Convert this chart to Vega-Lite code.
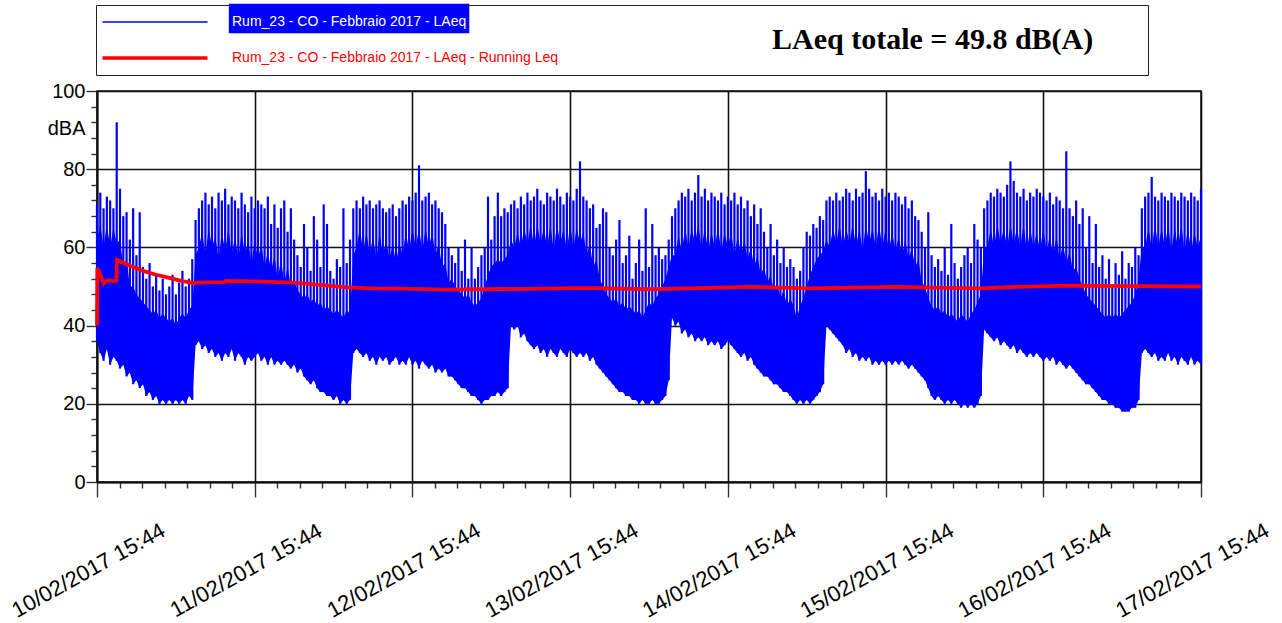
{
  "$schema": "https://vega.github.io/schema/vega-lite/v6.json",
  "width": 1104,
  "height": 391,
  "autosize": {"type": "none"},
  "padding": {"left": 97, "top": 91, "right": 81, "bottom": 141},
  "background": "white",
  "config": {"view": {"stroke": "#111", "strokeWidth": 1.5}},
  "datasets": {
    "laeq": [
      {"h":0,"lo":36,"hi":62,"pk":71},{"h":0.5,"lo":33,"hi":66,"pk":74},{"h":1,"lo":31,"hi":60,"pk":70},{"h":1.5,"lo":34,"hi":66,"pk":73},{"h":2,"lo":30,"hi":60,"pk":72},{"h":2.5,"lo":32,"hi":65,"pk":70},{"h":3,"lo":31,"hi":61,"pk":92},{"h":3.5,"lo":29,"hi":62,"pk":75},{"h":4,"lo":30,"hi":55,"pk":68},{"h":4.5,"lo":27,"hi":57,"pk":69},{"h":5,"lo":28,"hi":50,"pk":62},
      {"h":5.5,"lo":25,"hi":50,"pk":70},{"h":6,"lo":26,"hi":48,"pk":58},{"h":6.5,"lo":24,"hi":47,"pk":69},{"h":7,"lo":25,"hi":46,"pk":55},{"h":7.5,"lo":22,"hi":45,"pk":52},{"h":8,"lo":23,"hi":44,"pk":56},{"h":8.5,"lo":21,"hi":43,"pk":50},{"h":9,"lo":22,"hi":44,"pk":53},{"h":9.5,"lo":20,"hi":42,"pk":49},{"h":10,"lo":21,"hi":43,"pk":52},{"h":10.5,"lo":20,"hi":42,"pk":48},{"h":11,"lo":21,"hi":41,"pk":50},{"h":11.5,"lo":20,"hi":42,"pk":53},{"h":12,"lo":21,"hi":40,"pk":48},{"h":12.5,"lo":20,"hi":42,"pk":51},{"h":13,"lo":21,"hi":43,"pk":54},{"h":13.5,"lo":20,"hi":42,"pk":50},{"h":14,"lo":22,"hi":44,"pk":52},{"h":14.5,"lo":21,"hi":45,"pk":57},{"h":15,"lo":35,"hi":58,"pk":67},
      {"h":15.5,"lo":36,"hi":60,"pk":70},{"h":16,"lo":34,"hi":64,"pk":72},{"h":16.5,"lo":35,"hi":58,"pk":74},{"h":17,"lo":33,"hi":65,"pk":71},{"h":17.5,"lo":34,"hi":60,"pk":73},{"h":18,"lo":32,"hi":63,"pk":70},{"h":18.5,"lo":33,"hi":57,"pk":74},{"h":19,"lo":31,"hi":64,"pk":72},{"h":19.5,"lo":33,"hi":59,"pk":75},{"h":20,"lo":32,"hi":65,"pk":71},{"h":20.5,"lo":34,"hi":58,"pk":73},{"h":21,"lo":31,"hi":63,"pk":72},{"h":21.5,"lo":33,"hi":57,"pk":70},{"h":22,"lo":32,"hi":64,"pk":74},{"h":22.5,"lo":30,"hi":58,"pk":71},{"h":23,"lo":32,"hi":62,"pk":69},{"h":23.5,"lo":31,"hi":56,"pk":73},{"h":24,"lo":32,"hi":62,"pk":70},{"h":24.5,"lo":33,"hi":57,"pk":72},{"h":25,"lo":31,"hi":61,"pk":71},{"h":25.5,"lo":32,"hi":55,"pk":70},{"h":26,"lo":30,"hi":59,"pk":73},{"h":26.5,"lo":32,"hi":54,"pk":66},{"h":27,"lo":30,"hi":58,"pk":71},{"h":27.5,"lo":31,"hi":52,"pk":65},{"h":28,"lo":30,"hi":57,"pk":70},{"h":28.5,"lo":31,"hi":51,"pk":72},{"h":29,"lo":30,"hi":55,"pk":64},{"h":29.5,"lo":29,"hi":50,"pk":70},{"h":30,"lo":30,"hi":52,"pk":62},
      {"h":30.5,"lo":28,"hi":49,"pk":58},{"h":31,"lo":29,"hi":48,"pk":55},{"h":31.5,"lo":27,"hi":47,"pk":66},{"h":32,"lo":26,"hi":48,"pk":60},{"h":32.5,"lo":25,"hi":46,"pk":54},{"h":33,"lo":26,"hi":47,"pk":68},{"h":33.5,"lo":24,"hi":45,"pk":62},{"h":34,"lo":23,"hi":46,"pk":55},{"h":34.5,"lo":23,"hi":44,"pk":71},{"h":35,"lo":22,"hi":45,"pk":66},{"h":35.5,"lo":22,"hi":44,"pk":54},{"h":36,"lo":21,"hi":43,"pk":52},{"h":36.5,"lo":22,"hi":44,"pk":57},{"h":37,"lo":20,"hi":43,"pk":55},{"h":37.5,"lo":21,"hi":42,"pk":70},{"h":38,"lo":20,"hi":44,"pk":56},{"h":38.5,"lo":21,"hi":43,"pk":62},{"h":39,"lo":33,"hi":58,"pk":70},
      {"h":39.5,"lo":34,"hi":60,"pk":72},{"h":40,"lo":33,"hi":65,"pk":70},{"h":40.5,"lo":32,"hi":59,"pk":73},{"h":41,"lo":33,"hi":64,"pk":71},{"h":41.5,"lo":31,"hi":58,"pk":72},{"h":42,"lo":32,"hi":63,"pk":70},{"h":42.5,"lo":30,"hi":57,"pk":71},{"h":43,"lo":32,"hi":64,"pk":72},{"h":43.5,"lo":31,"hi":58,"pk":70},{"h":44,"lo":32,"hi":62,"pk":69},{"h":44.5,"lo":30,"hi":57,"pk":70},{"h":45,"lo":31,"hi":61,"pk":71},{"h":45.5,"lo":32,"hi":56,"pk":68},{"h":46,"lo":30,"hi":61,"pk":70},{"h":46.5,"lo":31,"hi":58,"pk":72},{"h":47,"lo":30,"hi":64,"pk":71},{"h":47.5,"lo":32,"hi":59,"pk":73},{"h":48,"lo":30,"hi":65,"pk":72},{"h":48.5,"lo":31,"hi":60,"pk":74},{"h":49,"lo":29,"hi":65,"pk":81},{"h":49.5,"lo":31,"hi":59,"pk":72},{"h":50,"lo":30,"hi":65,"pk":73},{"h":50.5,"lo":29,"hi":60,"pk":74},{"h":51,"lo":30,"hi":64,"pk":71},{"h":51.5,"lo":28,"hi":58,"pk":72},{"h":52,"lo":29,"hi":61,"pk":70},{"h":52.5,"lo":28,"hi":55,"pk":69},{"h":53,"lo":29,"hi":56,"pk":66},{"h":53.5,"lo":27,"hi":51,"pk":60},
      {"h":54,"lo":27,"hi":52,"pk":58},{"h":54.5,"lo":26,"hi":50,"pk":56},{"h":55,"lo":25,"hi":49,"pk":60},{"h":55.5,"lo":24,"hi":48,"pk":54},{"h":56,"lo":24,"hi":47,"pk":62},{"h":56.5,"lo":23,"hi":48,"pk":52},{"h":57,"lo":22,"hi":46,"pk":60},{"h":57.5,"lo":22,"hi":45,"pk":52},{"h":58,"lo":21,"hi":46,"pk":55},{"h":58.5,"lo":20,"hi":47,"pk":58},{"h":59,"lo":21,"hi":50,"pk":60},{"h":59.5,"lo":21,"hi":53,"pk":73},{"h":60,"lo":22,"hi":55,"pk":62},{"h":60.5,"lo":22,"hi":56,"pk":68},{"h":61,"lo":23,"hi":57,"pk":74},{"h":61.5,"lo":22,"hi":56,"pk":68},{"h":62,"lo":23,"hi":57,"pk":70},{"h":62.5,"lo":24,"hi":58,"pk":69},{"h":63,"lo":40,"hi":62,"pk":71},
      {"h":63.5,"lo":39,"hi":60,"pk":72},{"h":64,"lo":40,"hi":64,"pk":70},{"h":64.5,"lo":37,"hi":60,"pk":73},{"h":65,"lo":38,"hi":65,"pk":71},{"h":65.5,"lo":36,"hi":61,"pk":74},{"h":66,"lo":35,"hi":66,"pk":72},{"h":66.5,"lo":34,"hi":60,"pk":73},{"h":67,"lo":35,"hi":66,"pk":75},{"h":67.5,"lo":33,"hi":61,"pk":72},{"h":68,"lo":34,"hi":65,"pk":71},{"h":68.5,"lo":32,"hi":60,"pk":74},{"h":69,"lo":34,"hi":66,"pk":73},{"h":69.5,"lo":33,"hi":59,"pk":72},{"h":70,"lo":32,"hi":66,"pk":75},{"h":70.5,"lo":34,"hi":61,"pk":73},{"h":71,"lo":33,"hi":65,"pk":71},{"h":71.5,"lo":32,"hi":59,"pk":74},{"h":72,"lo":34,"hi":66,"pk":73},{"h":72.5,"lo":33,"hi":60,"pk":72},{"h":73,"lo":32,"hi":65,"pk":75},{"h":73.5,"lo":33,"hi":61,"pk":82},{"h":74,"lo":32,"hi":64,"pk":73},{"h":74.5,"lo":33,"hi":58,"pk":72},{"h":75,"lo":31,"hi":61,"pk":70},{"h":75.5,"lo":32,"hi":55,"pk":71},{"h":76,"lo":30,"hi":57,"pk":65},
      {"h":76.5,"lo":29,"hi":52,"pk":66},{"h":77,"lo":28,"hi":50,"pk":70},{"h":77.5,"lo":27,"hi":48,"pk":69},{"h":78,"lo":26,"hi":47,"pk":60},{"h":78.5,"lo":25,"hi":46,"pk":58},{"h":79,"lo":24,"hi":47,"pk":62},{"h":79.5,"lo":23,"hi":45,"pk":67},{"h":80,"lo":23,"hi":46,"pk":56},{"h":80.5,"lo":22,"hi":44,"pk":58},{"h":81,"lo":22,"hi":45,"pk":63},{"h":81.5,"lo":21,"hi":44,"pk":52},{"h":82,"lo":21,"hi":43,"pk":56},{"h":82.5,"lo":20,"hi":44,"pk":62},{"h":83,"lo":21,"hi":42,"pk":54},{"h":83.5,"lo":20,"hi":44,"pk":70},{"h":84,"lo":20,"hi":46,"pk":55},{"h":84.5,"lo":21,"hi":45,"pk":66},{"h":85,"lo":20,"hi":47,"pk":58},{"h":85.5,"lo":20,"hi":48,"pk":60},{"h":86,"lo":21,"hi":50,"pk":57},{"h":86.5,"lo":22,"hi":52,"pk":58},{"h":87,"lo":26,"hi":55,"pk":62},{"h":87.5,"lo":42,"hi":58,"pk":68},
      {"h":88,"lo":40,"hi":58,"pk":70},{"h":88.5,"lo":41,"hi":63,"pk":72},{"h":89,"lo":38,"hi":59,"pk":74},{"h":89.5,"lo":39,"hi":65,"pk":73},{"h":90,"lo":37,"hi":60,"pk":75},{"h":90.5,"lo":38,"hi":65,"pk":72},{"h":91,"lo":36,"hi":61,"pk":74},{"h":91.5,"lo":37,"hi":66,"pk":78.5},{"h":92,"lo":36,"hi":60,"pk":73},{"h":92.5,"lo":37,"hi":65,"pk":75},{"h":93,"lo":35,"hi":59,"pk":72},{"h":93.5,"lo":36,"hi":64,"pk":74},{"h":94,"lo":35,"hi":60,"pk":73},{"h":94.5,"lo":36,"hi":65,"pk":72},{"h":95,"lo":34,"hi":59,"pk":74},{"h":95.5,"lo":35,"hi":64,"pk":71},{"h":96,"lo":36,"hi":60,"pk":73},{"h":96.5,"lo":35,"hi":64,"pk":72},{"h":97,"lo":34,"hi":58,"pk":74},{"h":97.5,"lo":33,"hi":63,"pk":71},{"h":98,"lo":32,"hi":58,"pk":73},{"h":98.5,"lo":33,"hi":62,"pk":70},{"h":99,"lo":31,"hi":57,"pk":72},{"h":99.5,"lo":32,"hi":60,"pk":68},{"h":100,"lo":30,"hi":55,"pk":71},{"h":100.5,"lo":29,"hi":58,"pk":66},{"h":101,"lo":28,"hi":53,"pk":70},{"h":101.5,"lo":27,"hi":55,"pk":64},{"h":102,"lo":27,"hi":51,"pk":60},{"h":102.5,"lo":26,"hi":53,"pk":66},{"h":103,"lo":25,"hi":49,"pk":58},{"h":103.5,"lo":25,"hi":51,"pk":62},{"h":104,"lo":24,"hi":47,"pk":56},{"h":104.5,"lo":23,"hi":49,"pk":60},{"h":105,"lo":23,"hi":45,"pk":55},{"h":105.5,"lo":22,"hi":47,"pk":57},
      {"h":106,"lo":21,"hi":45,"pk":55},{"h":106.5,"lo":20,"hi":42,"pk":52},{"h":107,"lo":21,"hi":45,"pk":54},{"h":107.5,"lo":20,"hi":47,"pk":60},{"h":108,"lo":21,"hi":50,"pk":64},{"h":108.5,"lo":20,"hi":53,"pk":63},{"h":109,"lo":21,"hi":55,"pk":66},{"h":109.5,"lo":22,"hi":57,"pk":65},{"h":110,"lo":23,"hi":58,"pk":68},{"h":110.5,"lo":25,"hi":59,"pk":67},{"h":111,"lo":40,"hi":62,"pk":72},
      {"h":111.5,"lo":39,"hi":60,"pk":73},{"h":112,"lo":38,"hi":65,"pk":72},{"h":112.5,"lo":37,"hi":61,"pk":74},{"h":113,"lo":36,"hi":66,"pk":72},{"h":113.5,"lo":35,"hi":60,"pk":73},{"h":114,"lo":33,"hi":65,"pk":75},{"h":114.5,"lo":34,"hi":61,"pk":74},{"h":115,"lo":32,"hi":66,"pk":72},{"h":115.5,"lo":33,"hi":60,"pk":75},{"h":116,"lo":31,"hi":65,"pk":73},{"h":116.5,"lo":32,"hi":59,"pk":74},{"h":117,"lo":31,"hi":66,"pk":79.5},{"h":117.5,"lo":32,"hi":61,"pk":75},{"h":118,"lo":30,"hi":65,"pk":73},{"h":118.5,"lo":31,"hi":60,"pk":74},{"h":119,"lo":30,"hi":66,"pk":72},{"h":119.5,"lo":31,"hi":60,"pk":75},{"h":120,"lo":30,"hi":65,"pk":73},{"h":120.5,"lo":31,"hi":59,"pk":74},{"h":121,"lo":30,"hi":64,"pk":72},{"h":121.5,"lo":31,"hi":59,"pk":74},{"h":122,"lo":30,"hi":63,"pk":73},{"h":122.5,"lo":31,"hi":58,"pk":71},{"h":123,"lo":30,"hi":62,"pk":73},{"h":123.5,"lo":29,"hi":57,"pk":70},{"h":124,"lo":30,"hi":60,"pk":72},{"h":124.5,"lo":29,"hi":55,"pk":68},{"h":125,"lo":28,"hi":57,"pk":67},{"h":125.5,"lo":27,"hi":51,"pk":64},{"h":126,"lo":26,"hi":50,"pk":60},
      {"h":126.5,"lo":24,"hi":47,"pk":69},{"h":127,"lo":22,"hi":45,"pk":58},{"h":127.5,"lo":21,"hi":44,"pk":55},{"h":128,"lo":22,"hi":45,"pk":57},{"h":128.5,"lo":21,"hi":43,"pk":54},{"h":129,"lo":20,"hi":44,"pk":60},{"h":129.5,"lo":21,"hi":42,"pk":53},{"h":130,"lo":20,"hi":43,"pk":66},{"h":130.5,"lo":21,"hi":42,"pk":56},{"h":131,"lo":20,"hi":41,"pk":52},{"h":131.5,"lo":19,"hi":43,"pk":55},{"h":132,"lo":20,"hi":42,"pk":58},{"h":132.5,"lo":19,"hi":41,"pk":60},{"h":133,"lo":20,"hi":43,"pk":56},{"h":133.5,"lo":19,"hi":44,"pk":66},{"h":134,"lo":20,"hi":46,"pk":62},{"h":134.5,"lo":22,"hi":48,"pk":60},{"h":135,"lo":39,"hi":60,"pk":70},
      {"h":135.5,"lo":38,"hi":60,"pk":72},{"h":136,"lo":37,"hi":65,"pk":74},{"h":136.5,"lo":36,"hi":60,"pk":73},{"h":137,"lo":37,"hi":66,"pk":75},{"h":137.5,"lo":35,"hi":61,"pk":74},{"h":138,"lo":36,"hi":65,"pk":73},{"h":138.5,"lo":35,"hi":60,"pk":76},{"h":139,"lo":34,"hi":66,"pk":82},{"h":139.5,"lo":35,"hi":61,"pk":77},{"h":140,"lo":33,"hi":65,"pk":74},{"h":140.5,"lo":34,"hi":60,"pk":73},{"h":141,"lo":33,"hi":66,"pk":75},{"h":141.5,"lo":32,"hi":59,"pk":72},{"h":142,"lo":33,"hi":65,"pk":74},{"h":142.5,"lo":32,"hi":60,"pk":73},{"h":143,"lo":33,"hi":64,"pk":75},{"h":143.5,"lo":32,"hi":59,"pk":74},{"h":144,"lo":31,"hi":65,"pk":73},{"h":144.5,"lo":32,"hi":59,"pk":72},{"h":145,"lo":31,"hi":63,"pk":74},{"h":145.5,"lo":32,"hi":58,"pk":71},{"h":146,"lo":30,"hi":63,"pk":73},{"h":146.5,"lo":31,"hi":57,"pk":72},{"h":147,"lo":30,"hi":61,"pk":70},{"h":147.5,"lo":29,"hi":56,"pk":84.6},{"h":148,"lo":30,"hi":59,"pk":70},{"h":148.5,"lo":29,"hi":54,"pk":68},
      {"h":149,"lo":28,"hi":55,"pk":72},{"h":149.5,"lo":27,"hi":52,"pk":66},{"h":150,"lo":26,"hi":50,"pk":70},{"h":150.5,"lo":25,"hi":48,"pk":60},{"h":151,"lo":25,"hi":47,"pk":68},{"h":151.5,"lo":24,"hi":46,"pk":56},{"h":152,"lo":23,"hi":45,"pk":66},{"h":152.5,"lo":22,"hi":44,"pk":55},{"h":153,"lo":21,"hi":43,"pk":58},{"h":153.5,"lo":21,"hi":42,"pk":52},{"h":154,"lo":20,"hi":43,"pk":57},{"h":154.5,"lo":20,"hi":42,"pk":50},{"h":155,"lo":19,"hi":43,"pk":56},{"h":155.5,"lo":19,"hi":42,"pk":53},{"h":156,"lo":18,"hi":43,"pk":59},{"h":156.5,"lo":18,"hi":44,"pk":52},{"h":157,"lo":18,"hi":45,"pk":56},{"h":157.5,"lo":19,"hi":46,"pk":55},{"h":158,"lo":19,"hi":48,"pk":60},{"h":158.5,"lo":21,"hi":52,"pk":58},{"h":159,"lo":33,"hi":60,"pk":70},
      {"h":159.5,"lo":34,"hi":60,"pk":73},{"h":160,"lo":33,"hi":65,"pk":74},{"h":160.5,"lo":32,"hi":60,"pk":78},{"h":161,"lo":33,"hi":66,"pk":73},{"h":161.5,"lo":31,"hi":60,"pk":72},{"h":162,"lo":32,"hi":65,"pk":74},{"h":162.5,"lo":31,"hi":60,"pk":73},{"h":163,"lo":33,"hi":66,"pk":72},{"h":163.5,"lo":31,"hi":59,"pk":74},{"h":164,"lo":32,"hi":65,"pk":73},{"h":164.5,"lo":30,"hi":60,"pk":72},{"h":165,"lo":32,"hi":66,"pk":74},{"h":165.5,"lo":31,"hi":59,"pk":73},{"h":166,"lo":30,"hi":65,"pk":72},{"h":166.5,"lo":32,"hi":59,"pk":74},{"h":167,"lo":30,"hi":64,"pk":73},{"h":167.5,"lo":31,"hi":60,"pk":72},{"h":168,"lo":30,"hi":63,"pk":75}
    ],
    "leq": [
      {"h":0,"leq":40},{"h":0.05,"leq":54.7},{"h":0.5,"leq":53},{"h":1,"leq":50.8},{"h":1.5,"leq":51.6},{"h":2.5,"leq":51.4},{"h":2.95,"leq":51.5},{"h":3.05,"leq":56.8},{"h":5,"leq":55.3},{"h":7,"leq":54},{"h":9,"leq":53},{"h":11,"leq":52.2},{"h":13,"leq":51.4},{"h":14.8,"leq":50.8},{"h":15.2,"leq":51},{"h":19.4,"leq":51.1},{"h":19.6,"leq":51.4},{"h":24,"leq":51.3},{"h":30,"leq":51},{"h":34,"leq":50.4},{"h":38,"leq":49.8},{"h":42,"leq":49.5},{"h":48,"leq":49.4},{"h":53.6,"leq":49.2},{"h":58,"leq":49.3},{"h":65.8,"leq":49.4},{"h":72,"leq":49.6},{"h":76,"leq":49.6},{"h":84,"leq":49.3},{"h":90,"leq":49.5},{"h":99.6,"leq":49.9},{"h":108.7,"leq":49.5},{"h":115,"leq":49.7},{"h":121.4,"leq":49.9},{"h":125.2,"leq":49.8},{"h":134.3,"leq":49.5},{"h":140,"leq":49.9},{"h":148,"leq":50.2},{"h":158,"leq":50.1},{"h":168,"leq":50}
    ]
  },
  "layer": [
    {
      "data": {"name": "laeq"},
      "mark": {"type": "area", "color": "#0000FF", "opacity": 1, "interpolate": "linear"},
      "encoding": {
        "x": {"field": "h", "type": "quantitative", "scale": {"domain": [0, 168], "nice": false, "zero": false},
          "axis": {"title": null, "tickCount": 200,
            "values": [0, 3.428571, 6.857143, 10.285714, 13.714286, 17.142857, 20.571429, 24, 27.428571, 30.857143, 34.285714, 37.714286, 41.142857, 44.571429, 48, 51.428571, 54.857143, 58.285714, 61.714286, 65.142857, 68.571429, 72, 75.428571, 78.857143, 82.285714, 85.714286, 89.142857, 92.571429, 96, 99.428571, 102.857143, 106.285714, 109.714286, 113.142857, 116.571429, 120, 123.428571, 126.857143, 130.285714, 133.714286, 137.142857, 140.571429, 144, 147.428571, 150.857143, 154.285714, 157.714286, 161.142857, 164.571429, 168],
            "grid": true, "gridColor": "#111", "gridWidth": 1.6, "gridOpacity": {"expr": "datum.value % 24 === 0 ? 1 : 0"},
            "domainColor": "#111", "domainWidth": 2, "tickColor": "#333", "tickWidth": 1.4,
            "tickSize": {"expr": "datum.value % 24 === 0 ? 15 : 6"},
            "labelExpr": "datum.value % 24 === 0 ? ['10/02/2017 15:44','11/02/2017 15:44','12/02/2017 15:44','13/02/2017 15:44','14/02/2017 15:44','15/02/2017 15:44','16/02/2017 15:44','17/02/2017 15:44'][round(datum.value/24)] : ''",
            "labelAngle": -29, "labelAlign": "center", "labelBaseline": "middle", "labelPadding": 73, "labelOffset": -9,
            "labelFont": "Liberation Sans", "labelFontSize": 22, "labelColor": "#000", "labelFlush": false, "labelOverlap": false, "labelBound": false}},
        "y": {"field": "lo", "type": "quantitative", "scale": {"domain": [0, 100], "nice": false, "zero": false},
          "axis": {"tickCount": 200, "format": "d", "values": [0, 4, 8, 12, 16, 20, 24, 28, 32, 36, 40, 44, 48, 52, 56, 60, 64, 68, 72, 76, 80, 84, 88, 92, 96, 100],
            "title": "dBA", "titleAngle": 0, "titleX": -12, "titleY": 37, "titleAlign": "right", "titleBaseline": "middle",
            "titleFont": "Liberation Sans", "titleFontSize": 20, "titleFontWeight": "normal", "titleColor": "#000",
            "grid": true, "gridColor": "#111", "gridWidth": 1.6, "gridOpacity": {"expr": "datum.value % 20 === 0 ? 1 : 0"},
            "domainColor": "#111", "domainWidth": 2, "tickColor": "#333", "tickWidth": 1.4,
            "tickSize": {"expr": "datum.value % 20 === 0 ? 11 : 6"}, "labelPadding": 1,
            "labelExpr": "datum.value % 20 === 0 ? format(datum.value, 'd') : ''",
            "labelFont": "Liberation Sans", "labelFontSize": 20, "labelColor": "#000", "labelFlush": false, "labelOverlap": false}},
        "y2": {"field": "hi"}
      }
    },
    {
      "data": {"name": "laeq"},
      "mark": {"type": "rule", "strokeWidth": 2.2},
      "encoding": {
        "x": {"field": "h", "type": "quantitative"},
        "y": {"field": "lo", "type": "quantitative"},
        "y2": {"field": "pk"},
        "color": {"datum": "Rum_23 - CO - Febbraio 2017 - LAeq", "type": "nominal",
          "scale": {"domain": ["Rum_23 - CO - Febbraio 2017 - LAeq", "Rum_23 - CO - Febbraio 2017 - LAeq - Running Leq"], "range": ["#0000FF", "#FF0000"]},
          "legend": {"orient": "none", "legendX": -1, "legendY": -86, "direction": "vertical",
            "title": "LAeq totale = 49.8 dB(A)\u2800\u2800",
            "titleOrient": "right", "titleFont": "Liberation Serif", "titleFontSize": 30, "titleFontWeight": "bold", "titleColor": "#000", "titlePadding": 214, "titleLimit": 2000,
            "strokeColor": "#222", "padding": 10, "fillColor": "#fff",
            "symbolType": {"expr": "datum.index === 0 ? 'M-5,0H5M7.1,-1.67H29.86V1.0H7.1Z' : 'M-5,0H5'"},
            "symbolSize": 441, "symbolOffset": 42,
            "symbolFillColor": {"expr": "datum.index === 0 ? '#0000FF' : 'transparent'"},
            "symbolStrokeWidth": {"expr": "datum.index === 1 ? 3.5 : 1.5"},
            "labelOffset": 70, "labelFont": "Liberation Sans", "labelFontSize": 14,
            "labelColor": {"expr": "datum.index === 1 ? '#FF0000' : '#FFFFFF'"},
            "labelLimit": 1000, "rowPadding": 15}}
      }
    },
    {
      "data": {"name": "leq"},
      "mark": {"type": "line", "strokeWidth": 3.8, "interpolate": "linear"},
      "encoding": {
        "x": {"field": "h", "type": "quantitative"},
        "y": {"field": "leq", "type": "quantitative"},
        "color": {"datum": "Rum_23 - CO - Febbraio 2017 - LAeq - Running Leq", "type": "nominal"}
      }
    }
  ]
}
